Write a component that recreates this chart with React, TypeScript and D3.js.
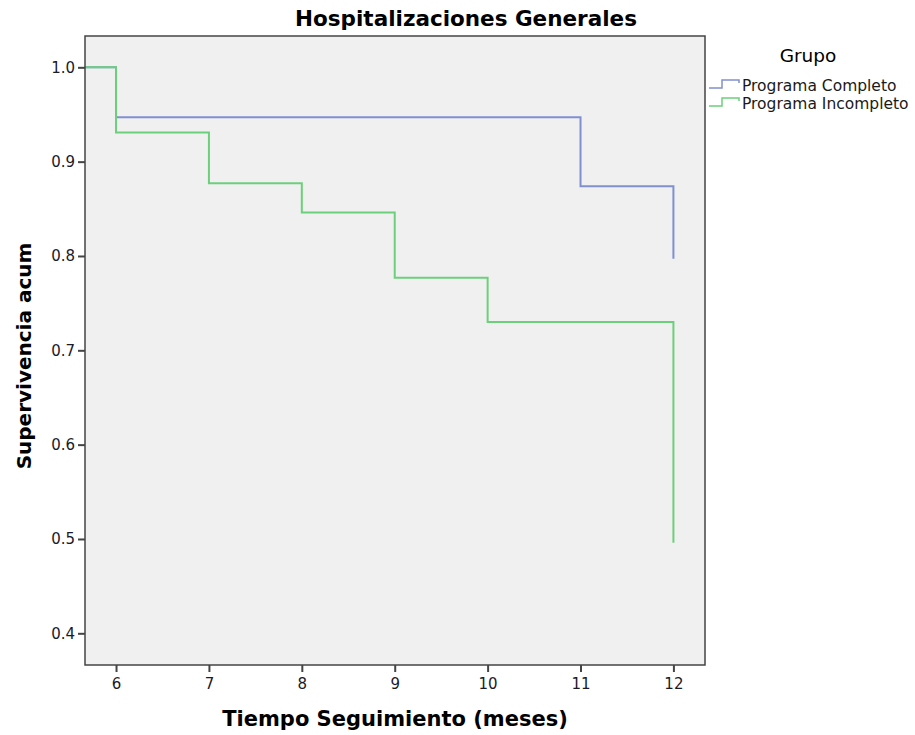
import React, { useEffect, useRef } from "react";
import * as d3 from "d3";

const yTicks = [0.4, 0.5, 0.6, 0.7, 0.8, 0.9, 1.0];
const xTicks = [6, 7, 8, 9, 10, 11, 12];

const completoTimes = [0, 6, 11, 12];
const completoSurv = [1.0, 0.947, 0.874, 0.797];
const incompletoTimes = [0, 6, 7, 8, 9, 10, 12];
const incompletoSurv = [1.0, 0.931, 0.877, 0.846, 0.777, 0.73, 0.496];

const groups = ["Programa Completo", "Programa Incompleto"];
const colors = ["#7f90d0", "#6ccf7b"];

export default function App() {
  const ref = useRef<SVGSVGElement>(null);

  useEffect(() => {
    const svg = d3.select(ref.current);
    svg.selectAll("*").remove();

    const left = 85, top = 36, right = 705, bottom = 665;
    const font = "'DejaVu Sans', sans-serif";

    const x = d3.scaleLinear().domain([5.666, 12.34]).range([left, right]);
    const y = d3.scaleLinear().domain([0.3664, 1.0332]).range([bottom, top]);

    svg.append("defs").append("clipPath").attr("id", "plotclip")
      .append("rect").attr("x", left).attr("y", top)
      .attr("width", right - left).attr("height", bottom - top);

    svg.append("rect")
      .attr("x", left).attr("y", top)
      .attr("width", right - left).attr("height", bottom - top)
      .attr("fill", "#f0f0f0");

    const line = d3.line<[number, number]>()
      .x(d => x(d[0])).y(d => y(d[1]))
      .curve(d3.curveStepAfter);

    const series = [
      completoTimes.map((t, i) => [t, completoSurv[i]] as [number, number]),
      incompletoTimes.map((t, i) => [t, incompletoSurv[i]] as [number, number]),
    ];

    const g = svg.append("g").attr("clip-path", "url(#plotclip)");
    series.forEach((s, i) => {
      g.append("path")
        .attr("d", line(s))
        .attr("fill", "none")
        .attr("stroke", colors[i])
        .attr("stroke-width", 2);
    });

    // frame
    svg.append("rect")
      .attr("x", left).attr("y", top)
      .attr("width", right - left).attr("height", bottom - top)
      .attr("fill", "none").attr("stroke", "#444").attr("stroke-width", 1.5);

    const yAxis = svg.append("g").attr("transform", `translate(${left},0)`)
      .call(d3.axisLeft(y).tickValues(yTicks).tickFormat(d3.format(".1f")).tickSize(7).tickPadding(3));
    const xAxis = svg.append("g").attr("transform", `translate(0,${bottom})`)
      .call(d3.axisBottom(x).tickValues(xTicks).tickFormat(d3.format("d")).tickSize(7).tickPadding(6));
    [yAxis, xAxis].forEach(a => {
      a.select(".domain").remove();
      a.selectAll(".tick line").attr("stroke", "#444").attr("stroke-width", 2);
      a.selectAll(".tick text").attr("fill", "#1a1a2a")
        .style("font-family", font).style("font-size", "15px");
    });

    svg.append("text")
      .attr("x", 466).attr("y", 26)
      .attr("text-anchor", "middle")
      .style("font-family", font).style("font-weight", "bold").style("font-size", "21.5px")
      .text("Hospitalizaciones Generales");

    svg.append("text")
      .attr("x", 395).attr("y", 726)
      .attr("text-anchor", "middle")
      .style("font-family", font).style("font-weight", "bold").style("font-size", "21px")
      .text("Tiempo Seguimiento (meses)");

    svg.append("text")
      .attr("transform", `translate(31,${356}) rotate(-90)`)
      .attr("text-anchor", "middle")
      .style("font-family", font).style("font-weight", "bold").style("font-size", "20px")
      .text("Supervivencia acum");

    // legend
    svg.append("text")
      .attr("x", 808).attr("y", 62)
      .attr("text-anchor", "middle")
      .style("font-family", font).style("font-size", "18.5px")
      .text("Grupo");

    groups.forEach((name, i) => {
      const yy = 88 + i * 18;
      svg.append("path")
        .attr("d", `M709,${yy}H722V${yy - 8}H739V${yy - 5}`)
        .attr("fill", "none").attr("stroke", colors[i]).attr("stroke-width", 1.5);
      svg.append("text")
        .attr("x", 742).attr("y", yy + 3)
        .style("font-family", font).style("font-size", "15.5px")
        .attr("fill", "#1a1a1a")
        .text(name);
    });
  }, []);

  return (
    <svg ref={ref} width={915} height={735}
      style={{ position: "absolute", left: 0, top: 0, background: "#fff" }} />
  );
}
